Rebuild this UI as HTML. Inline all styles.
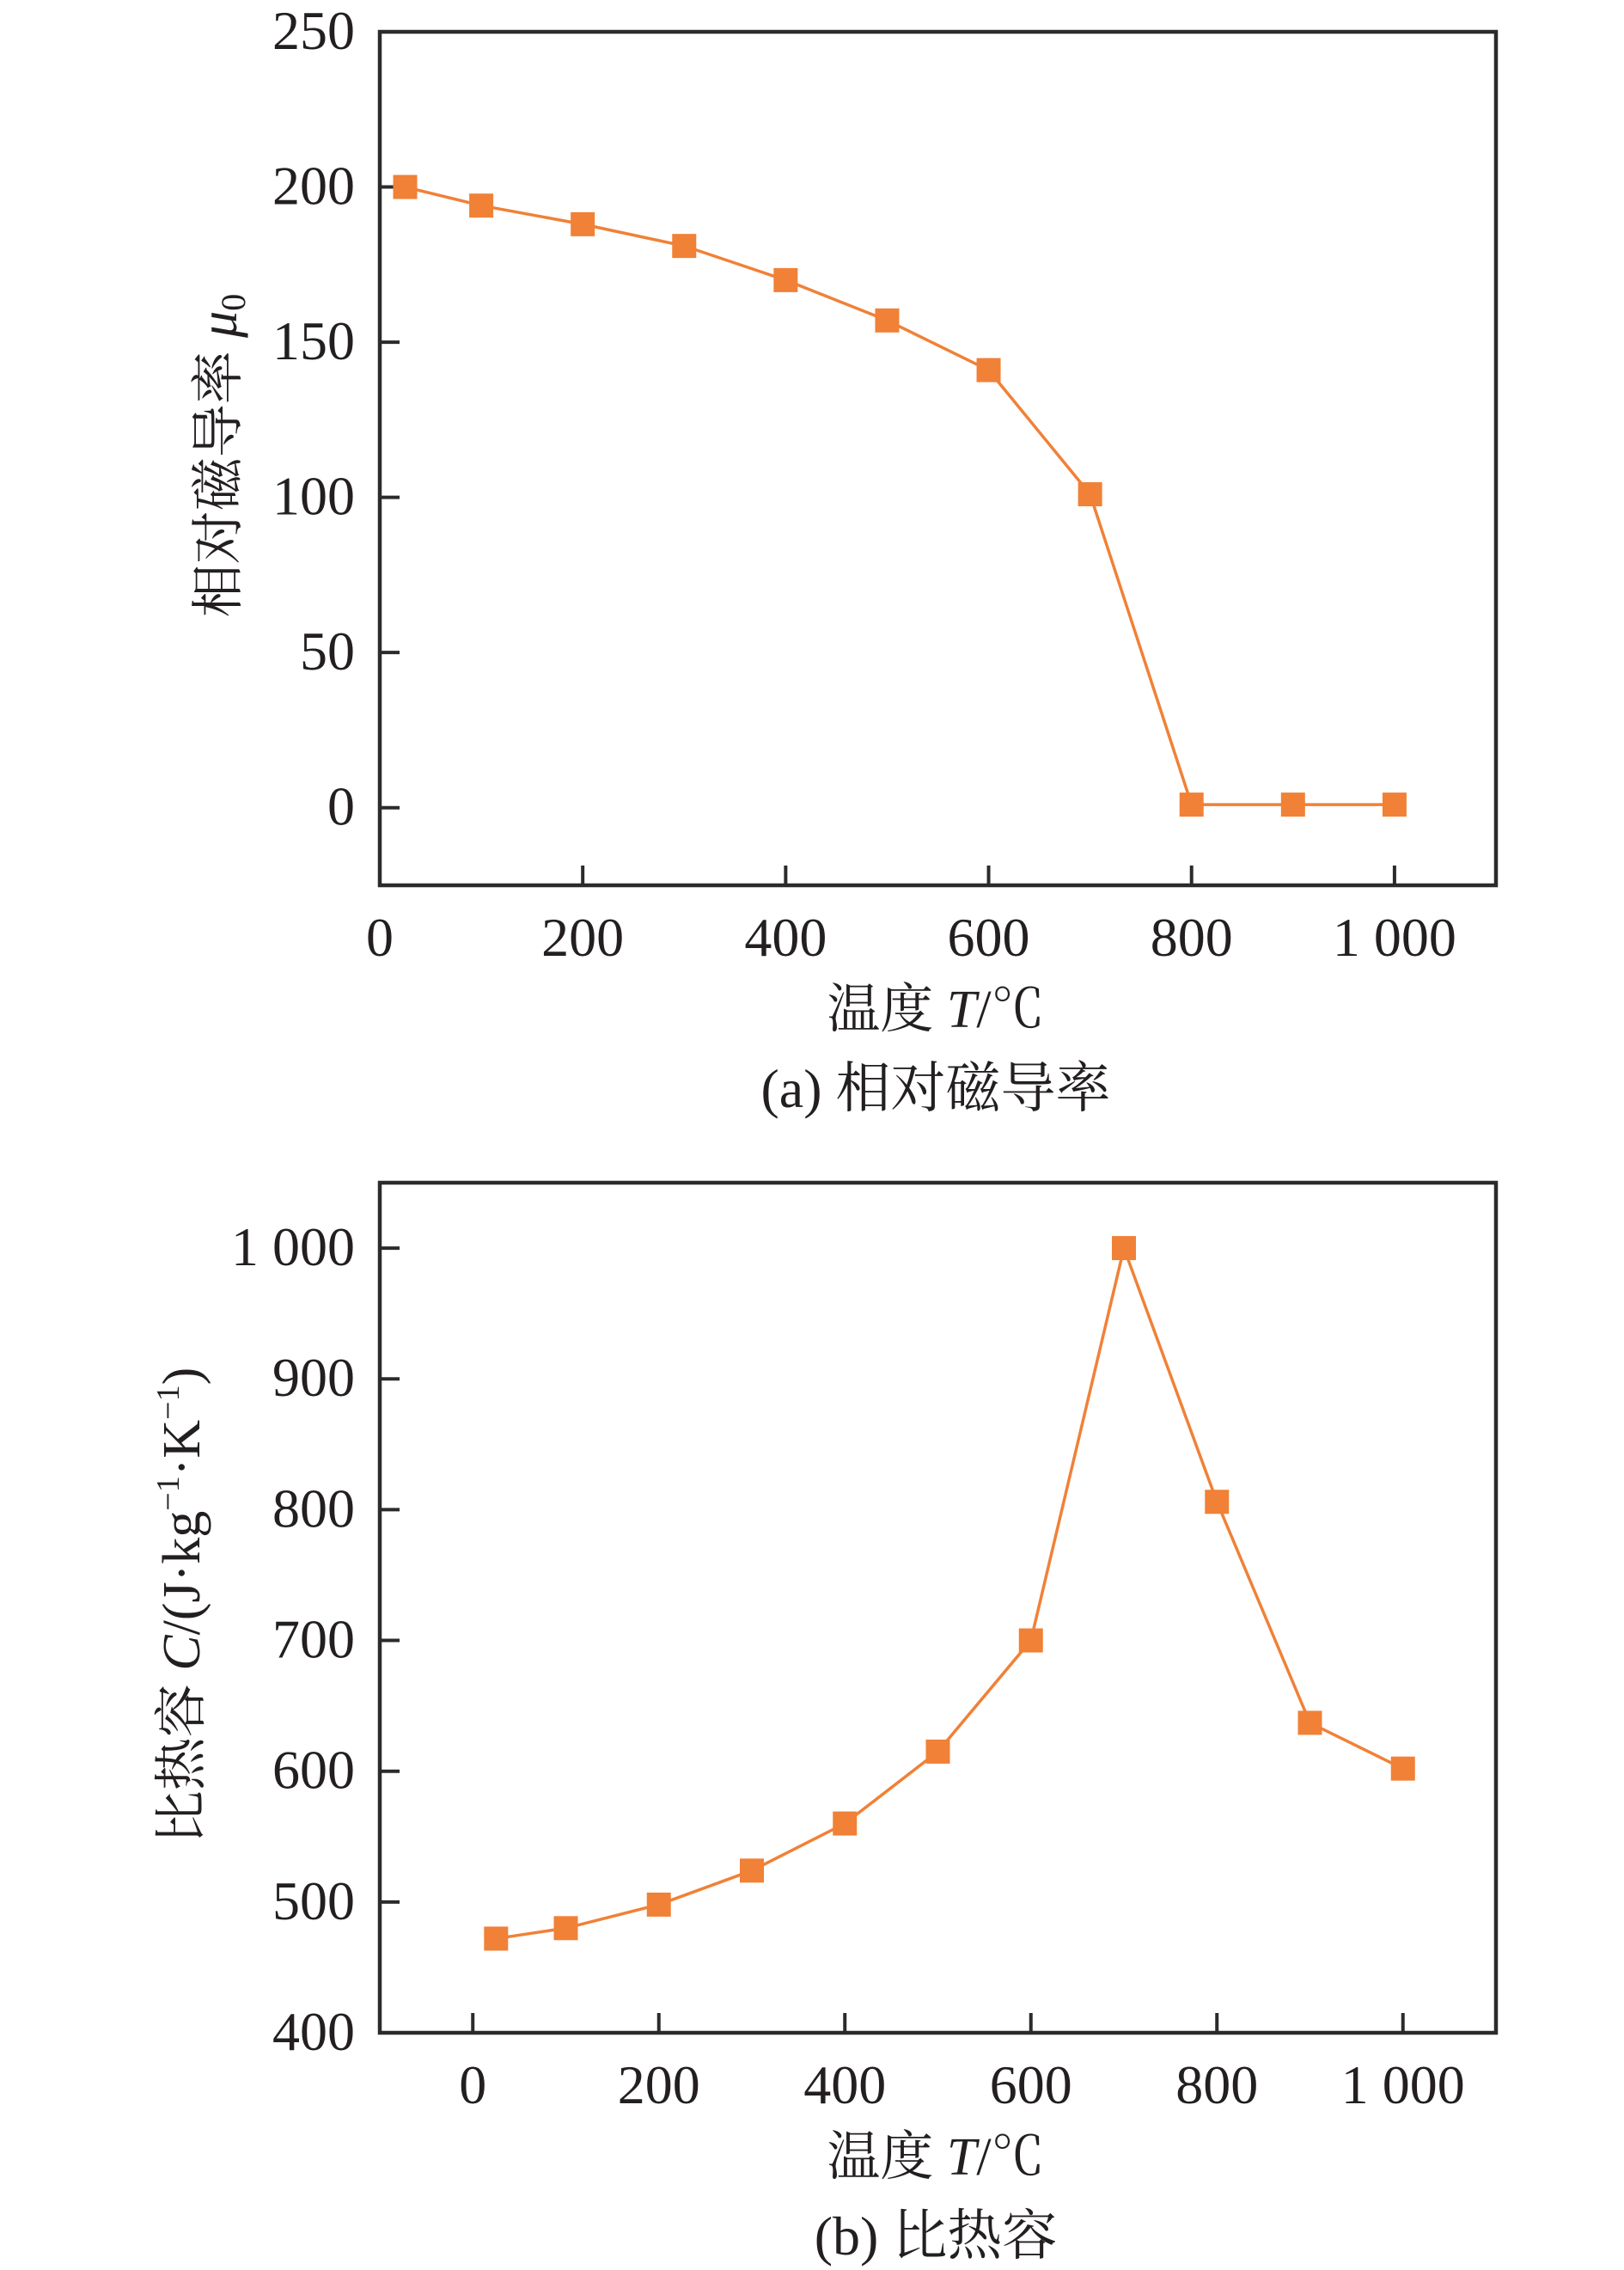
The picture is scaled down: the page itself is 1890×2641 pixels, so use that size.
<!DOCTYPE html>
<html><head><meta charset="utf-8"><style>
html,body{margin:0;padding:0;background:#fff}
svg{display:block}
text{font-family:"Liberation Serif","Noto Serif CJK SC","Noto Sans CJK SC",serif;fill:#231f20}
</style></head><body>
<svg id="fig" width="1890" height="2641" viewBox="0 0 1890 2641" xmlns="http://www.w3.org/2000/svg"></svg>
<script>
// Chart (a) data
const catsA = [25,100,200,300,400,500,600,700,800,900,1000];
const valsA = [200,194,188,181,170,157,141,101,1,1,1];
const yTicksA = [0,50,100,150,200,250];
const xTicksA = [0,200,400,600,800,1000];
const xLabelsA = ["0","200","400","600","800","1 000"];
// Chart (b) data
const catsB = [25,100,200,300,400,500,600,700,800,900,1000];
const valsB = [472,480,498,524,560,615,700,1000,806,637,602];
const yTicksB = [400,500,600,700,800,900,1000];
const yLabelsB = ["400","500","600","700","800","900","1 000"];
const xTicksB = [0,200,400,600,800,1000];
const xLabelsB = ["0","200","400","600","800","1 000"];

const NS="http://www.w3.org/2000/svg";
const svg=document.getElementById('fig');
const ORANGE="#f08137", AX="#2b2b2b";
function mk(tag,attrs,parent){const e=document.createElementNS(NS,tag);for(const k in attrs)e.setAttribute(k,attrs[k]);(parent||svg).appendChild(e);return e;}

function drawChart(o){
  const g=mk('g',{});
  
  
  const sx=v=>o.L+(v-o.xmin)/(o.xmax-o.xmin)*(o.R-o.L);
  const sy=v=>o.B-(v-o.ymin)/(o.ymax-o.ymin)*(o.B-o.T);
  const frame=mk('rect',{x:o.L,y:o.T,width:o.R-o.L,height:o.B-o.T,fill:'none',stroke:AX,'stroke-width':4.5},g);
  
  
  o.yTicks.forEach((v,i)=>{
    const y=sy(v);
    if(y>o.T+5){
      const t=mk('line',{x1:o.L,x2:o.L+23,y1:y,y2:y,stroke:AX,'stroke-width':4},g);
      
      
    }
    const lb=mk('text',{x:413,y:y+20,'text-anchor':'end','font-size':64},g);
    lb.textContent=o.yLabels?o.yLabels[i]:String(v);
    
    
  });
  o.xTicks.forEach((v,i)=>{
    const x=sx(v);
    if(x>o.L+5){
      const t=mk('line',{x1:x,x2:x,y1:o.B,y2:o.B-23,stroke:AX,'stroke-width':4},g);
      
      
    }
    const lb=mk('text',{x:x,y:o.B+82,'text-anchor':'middle','font-size':64},g);
    lb.textContent=o.xLabels[i];
    
    
  });
  const pts=o.cats.map((c,i)=>sx(c)+','+sy(o.vals[i])).join(' ');
  const line=mk('polyline',{points:pts,fill:'none',stroke:ORANGE,'stroke-width':3.5},g);
  
  
  o.cats.forEach((c,i)=>{
    const m=mk('rect',{x:sx(c)-14,y:sy(o.vals[i])-14,width:28,height:28,fill:ORANGE},g);
    
    
  });
  const xt=mk('text',{x:1089,y:o.B+165,'text-anchor':'middle','font-size':62},g);
  xt.innerHTML='温度 <tspan font-style="italic">T</tspan>/℃';
  
  
  const cp=mk('text',{x:1089,y:o.B+258,'text-anchor':'middle','font-size':64},g);
  cp.textContent=o.caption;
  
  
  const yt=mk('text',{x:0,y:0,'text-anchor':'middle','font-size':62,transform:`translate(${o.ytx},${o.yty}) rotate(-90)`},g);
  yt.innerHTML=o.ytitle;
  
  
}

drawChart({name:'chart-a-permeability',L:442,R:1741,T:37,B:1030,xmin:0,xmax:1100,ymin:-25,ymax:250,
  cats:catsA,vals:valsA,yTicks:yTicksA,xTicks:xTicksA,xLabels:xLabelsA,
  caption:'(a) 相对磁导率',ytx:275,yty:530,
  ytitle:'相对磁导率 <tspan font-style="italic">μ</tspan><tspan font-size="40" dy="10">0</tspan>'});
drawChart({name:'chart-b-specific-heat',L:442,R:1741,T:1376,B:2365,xmin:-100,xmax:1100,ymin:400,ymax:1050,
  cats:catsB,vals:valsB,yTicks:yTicksB,yLabels:yLabelsB,xTicks:xTicksB,xLabels:xLabelsB,
  caption:'(b) 比热容',ytx:232,yty:1868,
  ytitle:'比热容 <tspan font-style="italic">C</tspan>/(J·kg<tspan font-size="38" dy="-24">−1</tspan><tspan dy="24">·K</tspan><tspan font-size="38" dy="-24">−1</tspan><tspan dy="24">)</tspan>'});
</script>
</body></html>
